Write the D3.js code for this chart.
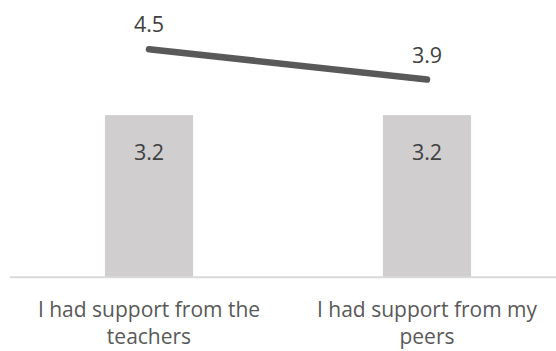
<!DOCTYPE html>
<html>
<head>
<meta charset="utf-8">
<script src="https://cdn.jsdelivr.net/npm/d3@7"></script>
<style>
  html, body { margin: 0; padding: 0; background: #fff; }
  svg { display: block; }
</style>
</head>
<body>
<svg id="chart" width="556" height="351"></svg>
<script>
const categories = ["I had support from the teachers", "I had support from my peers"];
const categoryLines = [["I had support from the", "teachers"], ["I had support from my", "peers"]];
const barValues = [3.2, 3.2];
const lineValues = [4.5, 3.9];

const W = 556, H = 351;
const svg = d3.select("#chart");
const fontFamily = "'Open Sans', 'Segoe UI', sans-serif";
const fs = 21.5;
const catFs = 21;

const x = d3.scaleBand()
  .domain(categories)
  .range([10, 566])
  .paddingInner(0.683)
  .paddingOuter(0.3415);

const y = d3.scaleLinear()
  .domain([0, 5.47])
  .range([277.3, 0]);

// bars
svg.selectAll("rect.bar")
  .data(barValues)
  .join("rect")
  .attr("class", "bar")
  .attr("x", (d, i) => x(categories[i]))
  .attr("y", d => y(d))
  .attr("width", x.bandwidth())
  .attr("height", d => y(0) - y(d))
  .attr("fill", "#d0cecf");

// axis baseline
svg.append("line")
  .attr("x1", 10).attr("x2", W)
  .attr("y1", y(0)).attr("y2", y(0))
  .attr("stroke", "#d9d9d9")
  .attr("stroke-width", 2);

// bar labels
svg.selectAll("text.barlabel")
  .data(barValues)
  .join("text")
  .attr("class", "barlabel")
  .attr("x", (d, i) => x(categories[i]) + x.bandwidth() / 2)
  .attr("y", d => y(d) + 45)
  .attr("text-anchor", "middle")
  .attr("font-family", fontFamily)
  .attr("font-size", fs)
  .attr("fill", "#404040")
  .text(d => d.toFixed(1));

// line
const cx = (i) => x(categories[i]) + x.bandwidth() / 2;
const lineGen = d3.line()
  .x((d, i) => cx(i))
  .y(d => y(d));

svg.append("path")
  .datum(lineValues)
  .attr("d", lineGen)
  .attr("fill", "none")
  .attr("stroke", "#595959")
  .attr("stroke-width", 6.5)
  .attr("stroke-linecap", "round");

// line labels
svg.selectAll("text.linelabel")
  .data(lineValues)
  .join("text")
  .attr("class", "linelabel")
  .attr("x", (d, i) => cx(i))
  .attr("y", d => y(d) - 17)
  .attr("text-anchor", "middle")
  .attr("font-family", fontFamily)
  .attr("font-size", fs)
  .attr("fill", "#404040")
  .text(d => d.toFixed(1));

// category labels (one text element per line)
categoryLines.forEach((lines, i) => {
  lines.forEach((ln, j) => {
    svg.append("text")
      .attr("x", cx(i))
      .attr("y", 316.5 + j * 27)
      .attr("text-anchor", "middle")
      .attr("font-family", fontFamily)
      .attr("font-size", catFs)
      .attr("fill", "#595959")
      .text(ln);
  });
});
</script>
</body>
</html>
